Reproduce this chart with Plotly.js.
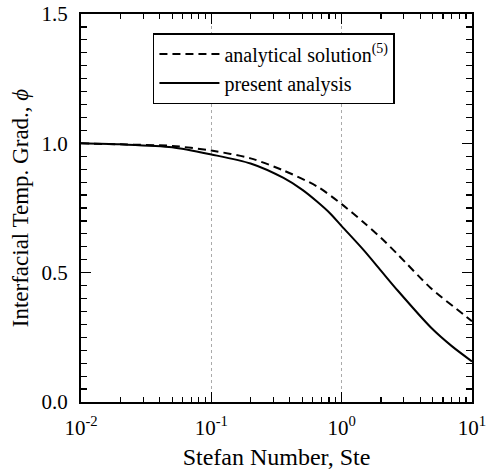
<!DOCTYPE html>
<html>
<head>
<meta charset="utf-8">
<script src="https://cdn.plot.ly/plotly-3.0.1.min.js"></script>
<style>html,body{margin:0;padding:0;background:#fff;}#chart{width:486px;height:474px;}</style>
</head>
<body>
<div id="chart"></div>
<script>
// Stefan number values (x) and interfacial temperature gradient (phi)
const steAnalytical = [0.01, 0.02, 0.05, 0.1, 0.2, 0.358, 0.65, 1.0, 1.47, 2.0, 2.7, 4.84, 8.67, 10];
const phiAnalytical = [1.0, 0.996, 0.99, 0.972, 0.942, 0.895, 0.833, 0.765, 0.695, 0.635, 0.57, 0.44, 0.337, 0.312];

const stePresent = [0.01, 0.02, 0.05, 0.1, 0.2, 0.358, 0.5, 0.65, 0.82, 1.0, 1.47, 2.0, 2.7, 4.84, 7.0, 10];
const phiPresent = [1.0, 0.996, 0.985, 0.957, 0.922, 0.866, 0.82, 0.774, 0.728, 0.68, 0.588, 0.508, 0.43, 0.288, 0.216, 0.157];

const xTickVals = [0.01, 0.1, 1, 10];
const xTickText = ['10<sup>-2</sup>', '10<sup>-1</sup>', '10<sup>0</sup>', '10<sup>1</sup>'];
const xMinorVals = [];
[0.01, 0.1, 1].forEach(d => { for (let k = 2; k <= 9; k++) xMinorVals.push(+(d * k).toPrecision(3)); });

const seriesNames = ['analytical solution<sup>(5)</sup>', 'present analysis'];

const font = 'Liberation Serif';

const traces = [
  {x: steAnalytical, y: phiAnalytical, mode: 'lines', name: seriesNames[0],
   line: {color: '#000', width: 2, dash: '8px,5px', shape: 'spline', smoothing: 0.8}},
  {x: stePresent, y: phiPresent, mode: 'lines', name: seriesNames[1],
   line: {color: '#000', width: 2, shape: 'spline', smoothing: 0.8}}
];

const layout = {
  width: 486, height: 474,
  margin: {l: 81, r: 14, t: 14, b: 72},
  paper_bgcolor: '#fff', plot_bgcolor: '#fff',
  font: {family: font, color: '#000', size: 20},
  showlegend: true,
  legend: {x: 0.184, y: 0.951, xanchor: 'left', yanchor: 'top',
           bordercolor: '#000', borderwidth: 1.5, bgcolor: '#fff',
           font: {family: font, size: 20, color: '#000'}, itemwidth: 60},
  xaxis: {
    type: 'log', range: [-2, 1],
    tickvals: xTickVals, ticktext: xTickText,
    ticks: 'inside', ticklen: 10, tickwidth: 1.5, tickcolor: '#000',
    showline: true, linecolor: '#000', linewidth: 2, mirror: 'ticks',
    showgrid: true, gridcolor: '#aaa', griddash: 'dot', gridwidth: 1,
    zeroline: false, ticklabelstandoff: 6, ticklabeloverflow: 'allow',
    tickfont: {family: font, size: 21},
    minor: {tickvals: xMinorVals, ticks: 'inside', ticklen: 5, tickwidth: 1.2, tickcolor: '#000', showgrid: false},
    title: {text: 'Stefan Number, Ste', font: {family: font, size: 24}, standoff: 9}
  },
  yaxis: {
    range: [0, 1.5], tickvals: [0, 0.5, 1.0, 1.5], tickformat: '.1f',
    ticks: 'inside', ticklen: 10, tickwidth: 1.5, tickcolor: '#000',
    showline: true, linecolor: '#000', linewidth: 2, mirror: 'ticks',
    showgrid: false, zeroline: false, ticklabelstandoff: 7,
    tickfont: {family: font, size: 21},
    minor: {dtick: 0.05, ticks: 'inside', ticklen: 6, tickwidth: 1.2, tickcolor: '#000', showgrid: false},
    title: {text: 'Interfacial Temp. Grad., <i>ϕ</i>', font: {family: font, size: 23}, standoff: 6}
  }
};

Plotly.newPlot('chart', traces, layout, {staticPlot: true, displayModeBar: false});
</script>
</body>
</html>
